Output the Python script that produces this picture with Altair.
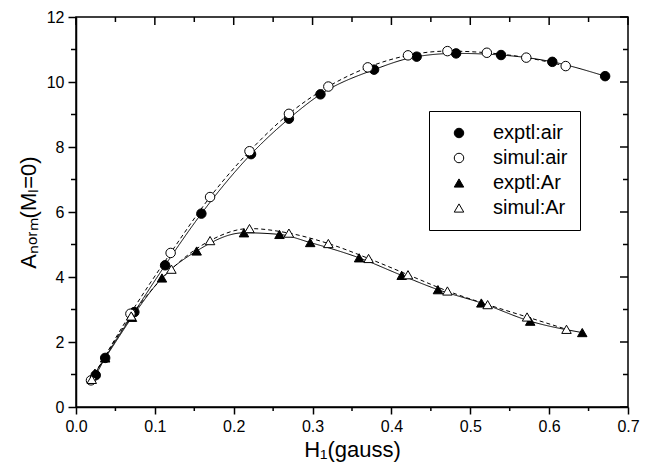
import altair as alt
import pandas as pd

# ---- data ----
exptl_air_x = [0.025, 0.037, 0.074, 0.113, 0.159, 0.222, 0.270, 0.310, 0.378, 0.432, 0.482, 0.539, 0.604, 0.671]
exptl_air_y = [0.98, 1.51, 2.92, 4.36, 5.95, 7.78, 8.87, 9.62, 10.38, 10.78, 10.88, 10.83, 10.62, 10.18]

simul_air_x = [0.019, 0.069, 0.120, 0.170, 0.220, 0.270, 0.320, 0.370, 0.421, 0.471, 0.521, 0.571, 0.621]
simul_air_y = [0.82, 2.87, 4.74, 6.46, 7.87, 9.02, 9.86, 10.45, 10.82, 10.95, 10.90, 10.75, 10.49]

exptl_ar_x = [0.024, 0.037, 0.071, 0.109, 0.153, 0.213, 0.258, 0.297, 0.359, 0.413, 0.459, 0.514, 0.576, 0.642]
exptl_ar_y = [1.04, 1.51, 2.76, 3.97, 4.80, 5.36, 5.31, 5.06, 4.59, 4.05, 3.61, 3.20, 2.64, 2.29]

simul_ar_x = [0.020, 0.070, 0.121, 0.170, 0.220, 0.270, 0.320, 0.371, 0.421, 0.471, 0.522, 0.572, 0.622]
simul_ar_y = [0.85, 2.80, 4.24, 5.12, 5.49, 5.35, 5.03, 4.57, 4.07, 3.57, 3.15, 2.77, 2.39]

series_names = ["exptl:air", "simul:air", "exptl:Ar", "simul:Ar"]
series_fill = ["black", "white", "black", "white"]
series_shape = ["circle", "circle", "triangle-up", "triangle-up"]
series_size = [90, 90, 130, 130]

x_major = [0.0, 0.1, 0.2, 0.3, 0.4, 0.5, 0.6, 0.7]
x_minor = [0.05, 0.15, 0.25, 0.35, 0.45, 0.55, 0.65]
y_major = [0, 2, 4, 6, 8, 10, 12]
y_minor = [1, 3, 5, 7, 9, 11]

rows = []
for name, xs, ys in [("exptl:air", exptl_air_x, exptl_air_y),
                     ("simul:air", simul_air_x, simul_air_y),
                     ("exptl:Ar", exptl_ar_x, exptl_ar_y),
                     ("simul:Ar", simul_ar_x, simul_ar_y)]:
    for a, b in zip(xs, ys):
        rows.append({"H": a, "A": b, "series": name, "kind": name.split(":")[0]})
df = pd.DataFrame(rows)

FONT = "Liberation Sans"
W, H = 552, 390

xscale = alt.Scale(domain=[0, 0.7], nice=False, zero=False, padding=0)
yscale = alt.Scale(domain=[0, 12], nice=False, zero=False, padding=0)

x_axis = alt.Axis(values=x_major, format=".1f", title="H₁(gauss)", tickSize=7, tickWidth=1.5,
                  domainWidth=1.5, labelFontSize=16, titleFontSize=22, labelPadding=4,
                  titlePadding=5, titleFontWeight="normal", labelFlush=False)
y_axis = alt.Axis(values=y_major, format="d", title="Aₙₒᵣₘ(Mₗ=0)", tickSize=8, tickWidth=1.5,
                  domainWidth=1.5, labelFontSize=16, titleFontSize=22, labelPadding=4,
                  titlePadding=6, titleFontWeight="normal", labelFlush=False)

lines = alt.Chart(df).mark_line(interpolate="monotone", color="black", strokeWidth=1).encode(
    x=alt.X("H:Q", scale=xscale, axis=x_axis),
    y=alt.Y("A:Q", scale=yscale, axis=y_axis),
    detail="series:N",
    strokeDash=alt.StrokeDash("kind:N", scale=alt.Scale(domain=["exptl", "simul"], range=[[1, 0], [4, 3]]),
                              legend=None),
)

leg = alt.Legend(title=None, orient="none", legendX=353, legendY=94)
points = alt.Chart(df).mark_point(filled=True, strokeWidth=1, opacity=1).encode(
    x=alt.X("H:Q", scale=xscale),
    y=alt.Y("A:Q", scale=yscale),
    fill=alt.Fill("series:N", scale=alt.Scale(domain=series_names, range=series_fill), legend=leg),
    stroke=alt.Stroke("series:N", scale=alt.Scale(domain=series_names, range=["black"] * 4), legend=leg),
    shape=alt.Shape("series:N", scale=alt.Scale(domain=series_names, range=series_shape), legend=leg),
    size=alt.Size("series:N", scale=alt.Scale(domain=series_names, range=series_size), legend=leg),
)

xmaj = pd.DataFrame({"H": x_major})
xmin = pd.DataFrame({"H": x_minor})
ymaj = pd.DataFrame({"A": y_major})
ymin = pd.DataFrame({"A": y_minor})

def xrule(d, y0, y1):
    return alt.Chart(d).mark_rule(color="black", strokeWidth=1.5).encode(
        x=alt.X("H:Q", scale=xscale), y=alt.value(y0), y2=alt.value(y1))

def yrule(d, x0, x1):
    return alt.Chart(d).mark_rule(color="black", strokeWidth=1.5).encode(
        y=alt.Y("A:Q", scale=yscale), x=alt.value(x0), x2=alt.value(x1))

ticks = [
    xrule(xmin, H, H + 4),       # bottom minor (outward)
    xrule(xmaj, 0, 8),           # top major (inward)
    xrule(xmin, 0, 5),           # top minor (inward)
    yrule(ymin, 0, -5),          # left minor (outward)
    yrule(ymaj, W, W - 8),       # right major (inward)
    yrule(ymin, W, W - 5),       # right minor (inward)
]

chart = alt.layer(lines, points, *ticks).properties(
    width=W, height=H, autosize="none",
    padding={"left": 68, "top": 9, "right": 12, "bottom": 57},
).configure_axis(
    labelFont=FONT, titleFont=FONT, labelColor="black", titleColor="black",
    domainColor="black", tickColor="black", grid=False,
).configure_view(
    stroke="black", strokeWidth=1.5,
).configure_legend(
    strokeColor="black", strokeWidth=1, fillColor="white", padding=12,
    labelFont=FONT, labelFontSize=20, labelColor="black",
    symbolStrokeWidth=1, labelOffset=24,
    rowPadding=5, symbolOffset=8,
)

chart.save("out.html", embed_options={"renderer": "svg", "actions": False})
